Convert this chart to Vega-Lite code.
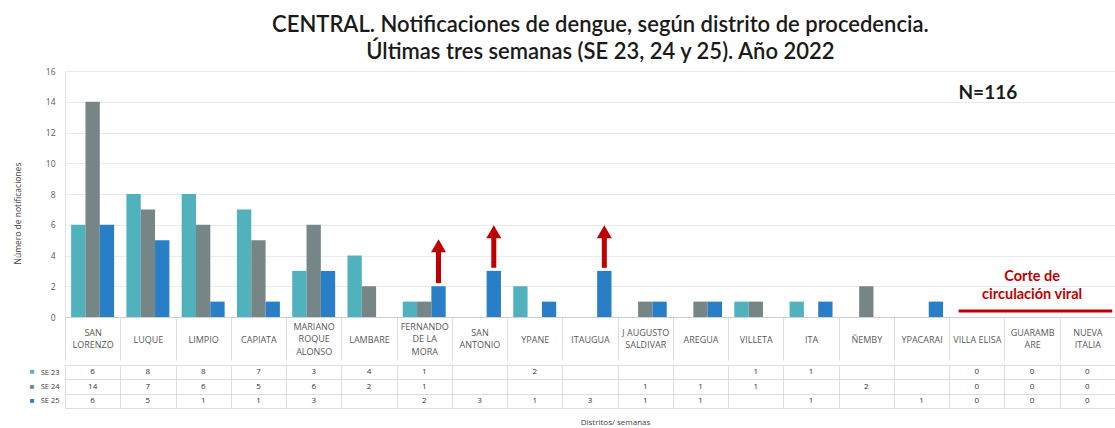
{
  "$schema": "https://vega.github.io/schema/vega-lite/v6.json",
  "background": "white",
  "padding": {"left": 13, "top": 14, "right": 0, "bottom": 0},
  "config": {"view": {"stroke": null}, "font": "Open Sans", "concat": {"spacing": 0}},
  "title": {
    "text": ["CENTRAL. Notificaciones de dengue, según distrito de procedencia.", "Últimas tres semanas (SE 23, 24 y 25). Año 2022"],
    "font": "Lato", "fontSize": 22, "fontWeight": 600, "color": "#1a1a1a", "lineHeight": 27,
    "anchor": "middle", "dx": 36, "offset": 3
  },
  "datasets": {
    "notificaciones": [
      {"distrito": "SAN LORENZO", "semana": "SE 23", "valor": 6},
      {"distrito": "SAN LORENZO", "semana": "SE 24", "valor": 14},
      {"distrito": "SAN LORENZO", "semana": "SE 25", "valor": 6},
      {"distrito": "LUQUE", "semana": "SE 23", "valor": 8},
      {"distrito": "LUQUE", "semana": "SE 24", "valor": 7},
      {"distrito": "LUQUE", "semana": "SE 25", "valor": 5},
      {"distrito": "LIMPIO", "semana": "SE 23", "valor": 8},
      {"distrito": "LIMPIO", "semana": "SE 24", "valor": 6},
      {"distrito": "LIMPIO", "semana": "SE 25", "valor": 1},
      {"distrito": "CAPIATA", "semana": "SE 23", "valor": 7},
      {"distrito": "CAPIATA", "semana": "SE 24", "valor": 5},
      {"distrito": "CAPIATA", "semana": "SE 25", "valor": 1},
      {"distrito": "MARIANO ROQUE ALONSO", "semana": "SE 23", "valor": 3},
      {"distrito": "MARIANO ROQUE ALONSO", "semana": "SE 24", "valor": 6},
      {"distrito": "MARIANO ROQUE ALONSO", "semana": "SE 25", "valor": 3},
      {"distrito": "LAMBARE", "semana": "SE 23", "valor": 4},
      {"distrito": "LAMBARE", "semana": "SE 24", "valor": 2},
      {"distrito": "FERNANDO DE LA MORA", "semana": "SE 23", "valor": 1},
      {"distrito": "FERNANDO DE LA MORA", "semana": "SE 24", "valor": 1},
      {"distrito": "FERNANDO DE LA MORA", "semana": "SE 25", "valor": 2},
      {"distrito": "SAN ANTONIO", "semana": "SE 25", "valor": 3},
      {"distrito": "YPANE", "semana": "SE 23", "valor": 2},
      {"distrito": "YPANE", "semana": "SE 25", "valor": 1},
      {"distrito": "ITAUGUA", "semana": "SE 25", "valor": 3},
      {"distrito": "J AUGUSTO SALDIVAR", "semana": "SE 24", "valor": 1},
      {"distrito": "J AUGUSTO SALDIVAR", "semana": "SE 25", "valor": 1},
      {"distrito": "AREGUA", "semana": "SE 24", "valor": 1},
      {"distrito": "AREGUA", "semana": "SE 25", "valor": 1},
      {"distrito": "VILLETA", "semana": "SE 23", "valor": 1},
      {"distrito": "VILLETA", "semana": "SE 24", "valor": 1},
      {"distrito": "ITA", "semana": "SE 23", "valor": 1},
      {"distrito": "ITA", "semana": "SE 25", "valor": 1},
      {"distrito": "ÑEMBY", "semana": "SE 24", "valor": 2},
      {"distrito": "YPACARAI", "semana": "SE 25", "valor": 1},
      {"distrito": "VILLA ELISA", "semana": "SE 23", "valor": 0},
      {"distrito": "VILLA ELISA", "semana": "SE 24", "valor": 0},
      {"distrito": "VILLA ELISA", "semana": "SE 25", "valor": 0},
      {"distrito": "GUARAMBARE", "semana": "SE 23", "valor": 0},
      {"distrito": "GUARAMBARE", "semana": "SE 24", "valor": 0},
      {"distrito": "GUARAMBARE", "semana": "SE 25", "valor": 0},
      {"distrito": "NUEVA ITALIA", "semana": "SE 23", "valor": 0},
      {"distrito": "NUEVA ITALIA", "semana": "SE 24", "valor": 0},
      {"distrito": "NUEVA ITALIA", "semana": "SE 25", "valor": 0}
    ],
    "flechas": [
      {"distrito": "FERNANDO DE LA MORA", "semana": "SE 25", "desde": 2.2, "hasta": 4.3, "punta": 4.64},
      {"distrito": "SAN ANTONIO", "semana": "SE 25", "desde": 3.2, "hasta": 5.2, "punta": 5.55},
      {"distrito": "ITAUGUA", "semana": "SE 25", "desde": 3.2, "hasta": 5.2, "punta": 5.55}
    ],
    "total": [{"distrito": "VILLA ELISA", "valor": 14.6, "texto": "N=116"}],
    "corte": [{"distrito": "GUARAMBARE", "valor": 2.6, "texto": "Corte de\ncirculación viral"}],
    "linea": [{"inicio": "VILLA ELISA", "fin": "NUEVA ITALIA", "valor": 0.39}]
  },
  "vconcat": [
    {
      "width": 1050,
      "height": 246,
      "resolve": {"axis": {"y": "independent"}},
      "layer": [
        {
          "data": {"name": "notificaciones"},
          "mark": {"type": "bar"},
          "encoding": {
            "x": {
              "field": "distrito", "type": "nominal",
              "scale": {"domain": ["SAN LORENZO", "LUQUE", "LIMPIO", "CAPIATA", "MARIANO ROQUE ALONSO", "LAMBARE", "FERNANDO DE LA MORA", "SAN ANTONIO", "YPANE", "ITAUGUA", "J AUGUSTO SALDIVAR", "AREGUA", "VILLETA", "ITA", "ÑEMBY", "YPACARAI", "VILLA ELISA", "GUARAMBARE", "NUEVA ITALIA"], "paddingInner": 0, "paddingOuter": 0},
              "axis": {
                "title": null, "labelAngle": 0, "labelFontSize": 9, "labelColor": "#595959",
                "labelBaseline": "middle", "labelLineHeight": 12.5,
                "labelPadding": {"condition": [
                  {"test": "indexof(['MARIANO ROQUE ALONSO','FERNANDO DE LA MORA'], datum.value) >= 0", "value": -34},
                  {"test": "indexof(['SAN LORENZO','SAN ANTONIO','J AUGUSTO SALDIVAR','GUARAMBARE','NUEVA ITALIA'], datum.value) >= 0", "value": -28}
                ], "value": -21},
                "tickBand": "extent", "tickSize": 43, "tickColor": "#DDDDDD", "domainColor": "#D0D0D0",
                "labelExpr": "datum.value == 'SAN LORENZO' ? ['SAN','LORENZO'] : datum.value == 'MARIANO ROQUE ALONSO' ? ['MARIANO','ROQUE','ALONSO'] : datum.value == 'FERNANDO DE LA MORA' ? ['FERNANDO','DE LA','MORA'] : datum.value == 'SAN ANTONIO' ? ['SAN','ANTONIO'] : datum.value == 'J AUGUSTO SALDIVAR' ? ['J AUGUSTO','SALDIVAR'] : datum.value == 'GUARAMBARE' ? ['GUARAMB','ARE'] : datum.value == 'NUEVA ITALIA' ? ['NUEVA','ITALIA'] : datum.label"
              }
            },
            "xOffset": {"field": "semana", "type": "nominal", "scale": {"domain": ["SE 23", "SE 24", "SE 25"], "paddingInner": 0, "paddingOuter": 0.43}},
            "y": {
              "field": "valor", "type": "quantitative",
              "scale": {"domain": [0, 16], "nice": false},
              "axis": {
                "title": "Número de notificaciones", "values": [0, 2, 4, 6, 8, 10, 12, 14, 16], "tickCount": 12, "labelOverlap": false,
                "grid": true, "gridColor": "#EBEBEB", "domainColor": "#E3E3E3", "ticks": false,
                "labelPadding": 10, "labelFontSize": 8.5, "labelColor": "#595959",
                "titleFontSize": 8.5, "titleFontWeight": "normal", "titleColor": "#404040", "titlePadding": 23, "titleY": 142
              }
            },
            "color": {"field": "semana", "type": "nominal", "scale": {"domain": ["SE 23", "SE 24", "SE 25"], "range": ["#4FB2BD", "#768686", "#287FC8"]}, "legend": null}
          }
        },
        {
          "data": {"name": "flechas"},
          "mark": {"type": "rule", "color": "#C00000", "strokeWidth": 5},
          "encoding": {
            "x": {"field": "distrito", "type": "nominal"},
            "xOffset": {"field": "semana", "type": "nominal"},
            "y": {"field": "desde", "type": "quantitative", "axis": null},
            "y2": {"field": "hasta"}
          }
        },
        {
          "data": {"name": "flechas"},
          "mark": {"type": "point", "shape": "triangle-up", "filled": true, "color": "#C00000", "size": 225, "opacity": 1},
          "encoding": {
            "x": {"field": "distrito", "type": "nominal"},
            "xOffset": {"field": "semana", "type": "nominal"},
            "y": {"field": "punta", "type": "quantitative", "axis": null}
          }
        },
        {
          "data": {"name": "total"},
          "mark": {"type": "text", "font": "Lato", "fontSize": 19, "fontWeight": "bold", "color": "#1a1a1a", "baseline": "middle", "dx": 11},
          "encoding": {
            "x": {"field": "distrito", "type": "nominal"},
            "y": {"field": "valor", "type": "quantitative", "axis": null},
            "text": {"field": "texto"}
          }
        },
        {
          "data": {"name": "corte"},
          "mark": {"type": "text", "font": "Lato", "fontSize": 14.5, "fontWeight": "bold", "color": "#C00000", "baseline": "middle", "lineBreak": "\n", "lineHeight": 18},
          "encoding": {
            "x": {"field": "distrito", "type": "nominal"},
            "y": {"field": "valor", "type": "quantitative", "axis": null},
            "text": {"field": "texto"}
          }
        },
        {
          "data": {"name": "linea"},
          "mark": {"type": "rule", "color": "#C00000", "strokeWidth": 3},
          "encoding": {
            "x": {"field": "inicio", "type": "nominal", "bandPosition": 0.17},
            "x2": {"field": "fin", "bandPosition": 0.95},
            "y": {"field": "valor", "type": "quantitative", "axis": null}
          }
        }
      ]
    },
    {
      "width": 1050,
      "height": 43,
      "data": {"name": "notificaciones"},
      "layer": [
        {
          "mark": {"type": "text", "fontSize": 8, "color": "#333333"},
          "encoding": {
            "x": {
              "field": "distrito", "type": "nominal",
              "scale": {"type": "band", "domain": ["SAN LORENZO", "LUQUE", "LIMPIO", "CAPIATA", "MARIANO ROQUE ALONSO", "LAMBARE", "FERNANDO DE LA MORA", "SAN ANTONIO", "YPANE", "ITAUGUA", "J AUGUSTO SALDIVAR", "AREGUA", "VILLETA", "ITA", "ÑEMBY", "YPACARAI", "VILLA ELISA", "GUARAMBARE", "NUEVA ITALIA"], "paddingInner": 0, "paddingOuter": 0},
              "axis": {
                "title": "Distritos/ semanas", "labels": false, "ticks": false, "domainColor": "#DDDDDD",
                "grid": true, "tickBand": "extent", "gridColor": "#DDDDDD",
                "titleFontSize": 8, "titleFontWeight": "normal", "titleColor": "#404040", "titlePadding": 10, "titleX": 550
              }
            },
            "y": {
              "field": "semana", "type": "nominal",
              "scale": {"type": "band", "domain": ["SE 23", "SE 24", "SE 25"], "paddingInner": 0, "paddingOuter": 0},
              "axis": {
                "title": null, "ticks": false, "domain": false, "grid": true, "tickBand": "extent", "gridColor": "#DDDDDD",
                "labelFontSize": 7.5, "labelColor": "#404040", "labelPadding": 6
              }
            },
            "text": {"field": "valor", "type": "quantitative"}
          }
        },
        {
          "mark": {"type": "text", "opacity": 0},
          "encoding": {
            "y": {
              "field": "semana", "type": "nominal",
              "scale": {"type": "band", "domain": ["SE 23", "SE 24", "SE 25"], "paddingInner": 0, "paddingOuter": 0},
              "axis": {
                "title": null, "orient": "left", "offset": 29, "ticks": false, "domain": false, "grid": false,
                "labelExpr": "'■'", "labelFontSize": 8,
                "labelColor": {"condition": [{"test": "datum.value == 'SE 23'", "value": "#4FB2BD"}, {"test": "datum.value == 'SE 24'", "value": "#768686"}], "value": "#287FC8"}
              }
            },
            "text": {"value": ""}
          }
        }
      ],
      "resolve": {"axis": {"y": "independent"}}
    }
  ]
}
